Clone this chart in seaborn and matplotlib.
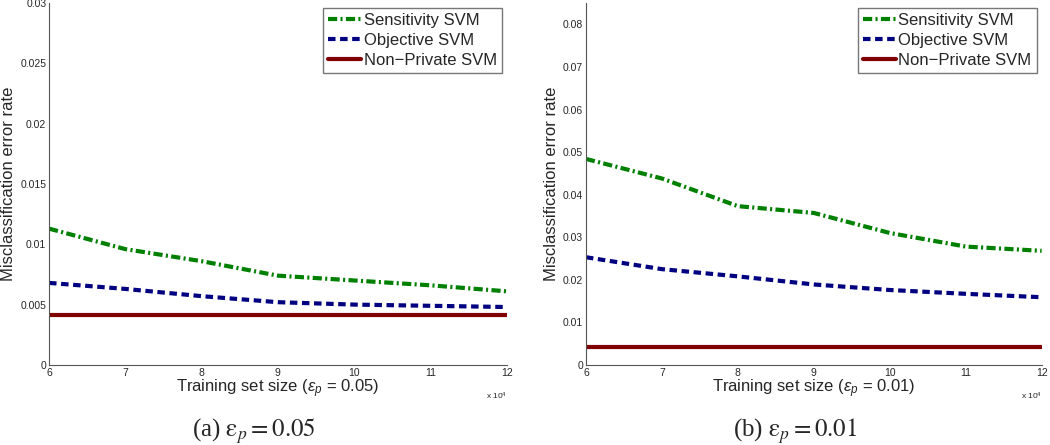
import numpy as np
import pandas as pd
import matplotlib
matplotlib.use("Agg")
import matplotlib.pyplot as plt
import seaborn as sns

sizes = [6, 7, 8, 9, 10, 11, 12]
series_names = ["Sensitivity SVM", "Objective SVM", "Non\u2212Private SVM"]

# panel (a) eps_p = 0.05
sens_a = [0.0113, 0.0096, 0.0086, 0.0074, 0.0070, 0.0066, 0.0061]
obj_a = [0.0068, 0.0063, 0.0057, 0.0052, 0.0050, 0.0049, 0.0048]
nonp_a = [0.0041, 0.0041, 0.0041, 0.0041, 0.0041, 0.0041, 0.0041]

# panel (b) eps_p = 0.01
sens_b = [0.0484, 0.0438, 0.0373, 0.0357, 0.0310, 0.0278, 0.0268]
obj_b = [0.0253, 0.0225, 0.0208, 0.0189, 0.0176, 0.0167, 0.0159]
nonp_b = [0.0041, 0.0041, 0.0041, 0.0041, 0.0041, 0.0041, 0.0041]

xlabels = [r"Training set size ($\epsilon_p$ = 0.05)", r"Training set size ($\epsilon_p$ = 0.01)"]
captions = [r"(a) $\mathrm{\varepsilon}_p = 0.05$", r"(b) $\mathrm{\varepsilon}_p = 0.01$"]
ylims = [0.03, 0.085]
yticks_list = [[0, 0.005, 0.01, 0.015, 0.02, 0.025, 0.03],
               [0, 0.01, 0.02, 0.03, 0.04, 0.05, 0.06, 0.07, 0.08]]

sns.set_style("white")
plt.rcParams['font.family'] = ['Liberation Sans', 'DejaVu Sans']
plt.rcParams['mathtext.fontset'] = 'custom'
plt.rcParams['mathtext.rm'] = 'Liberation Sans'
plt.rcParams['mathtext.it'] = 'Liberation Sans:italic'

colors = [(0, 0.5, 0), (0, 0, 0.5), (0.5, 0, 0)]
styles = [(0, (2.2, 0.8, 0.5, 0.8)), (0, (1.8, 1.1)), "-"]

fig = plt.figure(figsize=(10.5, 4.45), dpi=100)
positions = [[0.0467, 0.180, 0.436, 0.813], [0.558, 0.180, 0.434, 0.813]]
caption_x = [254 / 1050, 795 / 1050]

for i, (sens, obj, nonp) in enumerate([(sens_a, obj_a, nonp_a), (sens_b, obj_b, nonp_b)]):
    ax = fig.add_axes(positions[i])
    df = pd.DataFrame({
        "size": sizes * 3,
        "err": sens + obj + nonp,
        "method": [series_names[0]] * 7 + [series_names[1]] * 7 + [series_names[2]] * 7,
    })
    for j, name in enumerate(series_names):
        sub = df[df["method"] == name]
        sns.lineplot(data=sub, x="size", y="err", ax=ax, color=colors[j],
                     linewidth=3.0, linestyle=styles[j], label=name)
    ax.set_xlim(6, 12)
    ax.set_ylim(0, ylims[i])
    ax.set_xticks(sizes)
    ax.set_xticklabels([str(s) for s in sizes], fontsize=7.5)
    ax.set_yticks(yticks_list[i])
    ax.set_yticklabels([("0" if t == 0 else f"{t:g}") for t in yticks_list[i]], fontsize=7.5)
    ax.tick_params(direction="in", length=4, width=0.6, pad=2, color="#555555")
    for s in ["top", "right"]:
        ax.spines[s].set_visible(False)
    for s in ["left", "bottom"]:
        ax.spines[s].set_color("#555555")
        ax.spines[s].set_linewidth(0.8)
    ax.set_xlabel(xlabels[i], fontsize=12, labelpad=0)
    ax.set_ylabel("Misclassification error rate", fontsize=12, labelpad=3)
    ax.text(1.0, -0.07, r"x 10$^4$", transform=ax.transAxes, fontsize=6,
            ha="right", va="top")
    leg = ax.legend(loc="upper right", fontsize=12, frameon=True, fancybox=False,
                    handlelength=2.0, handletextpad=0.15, borderpad=0.3,
                    labelspacing=0.3, borderaxespad=0.3)
    leg.get_frame().set_edgecolor("#555555")
    leg.get_frame().set_linewidth(1.0)
    fig.text(caption_x[i], 8 / 445, captions[i], fontsize=18, ha="center", va="baseline",
             family="Liberation Serif", math_fontfamily="stix")

fig.savefig("out.png", dpi=100)
